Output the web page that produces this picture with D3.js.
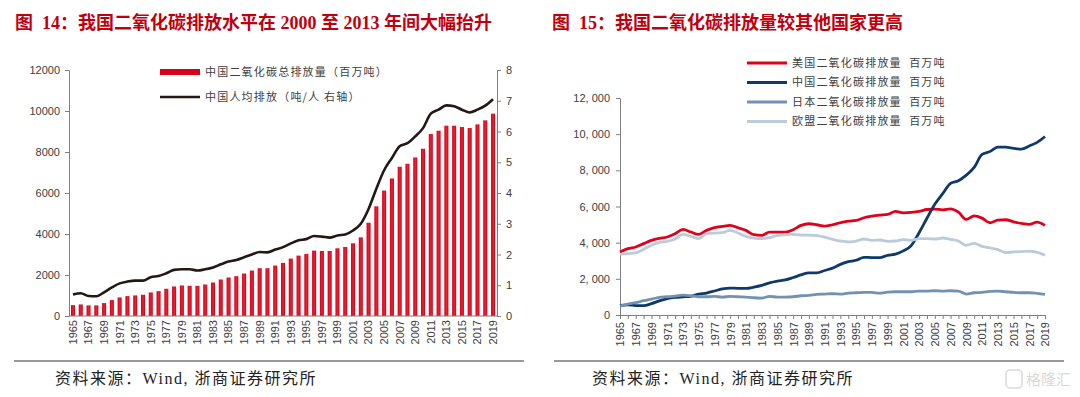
<!DOCTYPE html>
<html>
<head>
<meta charset="utf-8">
<script src="https://cdn.jsdelivr.net/npm/d3@7.9.0/dist/d3.min.js"></script>
<style>
  html, body { margin: 0; padding: 0; background: #fff; }
  svg { display: block; }
  text { white-space: pre; }
  .axis text { font-family: "Liberation Sans", Arial, sans-serif; font-size: 11px; fill: #404040; }
  .axis path, .axis line { stroke: #7f7f7f; }
  .legend text { font-family: "Noto Sans CJK SC", sans-serif; font-size: 11px; letter-spacing: 1.2px; fill: #404040; }
  .title { font-family: "Liberation Serif", "Noto Sans CJK SC", serif; font-weight: bold; font-size: 18px; fill: #c0000e; }
  .source { font-family: "Liberation Serif", "Noto Sans CJK SC", serif; font-size: 16px; letter-spacing: 1.5px; fill: #222; }
</style>
</head>
<body>
<svg id="chart" width="1080" height="397"></svg>
<script>
// ---------- Data ----------
const years = d3.range(1965, 2020);

// China total CO2 emissions, million tonnes
const chinaTotal = [
  530, 565, 518, 518, 630, 777, 906, 971, 1004, 1036,
  1150, 1214, 1328, 1441, 1490, 1473, 1473, 1538, 1635, 1781,
  1878, 1943, 2072, 2218, 2331, 2331, 2461, 2590, 2801, 2947,
  3028, 3189, 3173, 3173, 3303, 3368, 3546, 3837, 4550, 5350,
  6120, 6710, 7280, 7427, 7736, 8160, 8876, 9039, 9283, 9283,
  9218, 9169, 9348, 9544, 9870
];

// China per-capita emissions, tonnes / person (right axis)
const chinaPerCapita = [
  0.70, 0.74, 0.65, 0.64, 0.77, 0.93, 1.06, 1.12, 1.15, 1.15,
  1.26, 1.30, 1.39, 1.50, 1.52, 1.52, 1.48, 1.52, 1.58, 1.68,
  1.77, 1.82, 1.91, 2.00, 2.08, 2.07, 2.16, 2.24, 2.36, 2.46,
  2.50, 2.60, 2.58, 2.55, 2.62, 2.65, 2.78, 3.00, 3.48, 4.14,
  4.74, 5.14, 5.52, 5.62, 5.84, 6.11, 6.58, 6.71, 6.85, 6.82,
  6.71, 6.62, 6.71, 6.84, 7.05
];

const usTotal = [
  3487, 3670, 3762, 3945, 4129, 4239, 4312, 4496, 4734, 4588,
  4459, 4679, 4826, 4900, 4955, 4826, 4679, 4441, 4404, 4588,
  4588, 4588, 4716, 4955, 5046, 4991, 4918, 4991, 5101, 5193,
  5230, 5377, 5468, 5523, 5560, 5725, 5652, 5670, 5725, 5835,
  5854, 5817, 5872, 5689, 5285, 5487, 5358, 5101, 5248, 5266,
  5156, 5065, 5010, 5138, 4955
];

const japanTotal = [
  495, 605, 679, 789, 881, 972, 1009, 1046, 1101, 1064,
  1009, 1009, 1028, 991, 1028, 1009, 991, 954, 936, 1028,
  991, 991, 1009, 1064, 1083, 1138, 1156, 1174, 1156, 1211,
  1230, 1248, 1248, 1211, 1266, 1285, 1285, 1285, 1321, 1321,
  1340, 1321, 1340, 1321, 1156, 1230, 1248, 1303, 1321, 1285,
  1248, 1230, 1230, 1193, 1138
];

const euTotal = [
  3358, 3395, 3432, 3633, 3854, 4019, 4074, 4202, 4459, 4349,
  4220, 4496, 4532, 4551, 4679, 4532, 4349, 4257, 4220, 4276,
  4404, 4441, 4459, 4422, 4422, 4386, 4312, 4184, 4092, 4037,
  4092, 4202, 4129, 4147, 4074, 4092, 4165, 4129, 4220, 4220,
  4202, 4257, 4184, 4092, 3854, 3964, 3798, 3707, 3615, 3450,
  3487, 3505, 3524, 3468, 3303
];

const leftTicks = [0, 2000, 4000, 6000, 8000, 10000, 12000];
const rightTicks = [0, 1, 2, 3, 4, 5, 6, 7, 8];
const labelYears = years.filter((y) => (y - 1965) % 2 === 0);

const leftLegend = ["中国二氧化碳总排放量（百万吨）", "中国人均排放（吨/人 右轴）"];
const rightSeries = [
  { name: "美国二氧化碳排放量  百万吨", values: usTotal, color: "#e1001c" },
  { name: "中国二氧化碳排放量  百万吨", values: chinaTotal, color: "#0e3a6b" },
  { name: "日本二氧化碳排放量  百万吨", values: japanTotal, color: "#7391b0" },
  { name: "欧盟二氧化碳排放量  百万吨", values: euTotal, color: "#bccbdc" }
];

const svg = d3.select("#chart");

// ---------- Titles ----------
svg.append("text").attr("class", "title").attr("x", 15).attr("y", 29)
  .text("图  14：我国二氧化碳排放水平在 2000 至 2013 年间大幅抬升");
svg.append("text").attr("class", "title").attr("x", 552).attr("y", 29)
  .text("图  15：我国二氧化碳排放量较其他国家更高");

// ---------- Left chart: bars + per capita line ----------
const xL = d3.scaleBand().domain(years).range([69, 497]).paddingInner(0.48).paddingOuter(0.25);
const yL = d3.scaleLinear().domain([0, 12000]).range([316, 70]);
const yR = d3.scaleLinear().domain([0, 8]).range([316, 70]);

const grad = svg.append("defs").append("linearGradient").attr("id", "barGrad")
  .attr("x1", "0").attr("x2", "1").attr("y1", "0").attr("y2", "0");
grad.append("stop").attr("offset", "0").attr("stop-color", "#d4001a");
grad.append("stop").attr("offset", "0.55").attr("stop-color", "#ee2030");
grad.append("stop").attr("offset", "1").attr("stop-color", "#c40015");

svg.append("g").selectAll("rect")
  .data(years)
  .join("rect")
  .attr("x", (d) => xL(d))
  .attr("width", xL.bandwidth())
  .attr("y", (d, i) => yL(chinaTotal[i]))
  .attr("height", (d, i) => yL(0) - yL(chinaTotal[i]))
  .attr("fill", "url(#barGrad)");

svg.append("path")
  .datum(chinaPerCapita)
  .attr("fill", "none")
  .attr("stroke", "#231815")
  .attr("stroke-width", 2.6)
  .attr("stroke-linejoin", "round")
  .attr("d", d3.line()
    .x((d, i) => xL(years[i]) + xL.bandwidth() / 2)
    .y((d) => yR(d))
    .curve(d3.curveMonotoneX));

svg.append("g").attr("class", "axis")
  .attr("transform", "translate(69,0)")
  .call(d3.axisLeft(yL).tickValues(leftTicks).tickFormat(d3.format("d"))
    .tickSize(4).tickSizeOuter(0).tickPadding(5));

svg.append("g").attr("class", "axis")
  .attr("transform", "translate(497,0)")
  .call(d3.axisRight(yR).tickValues(rightTicks).tickSize(4).tickSizeOuter(0).tickPadding(5));

const xAxisL = svg.append("g").attr("class", "axis")
  .attr("transform", "translate(0,316)")
  .call(d3.axisBottom(xL).tickValues(labelYears).tickSize(0).tickSizeOuter(0));
xAxisL.select(".domain").attr("d", "M69,0H497");
xAxisL.selectAll("text")
  .attr("transform", "rotate(-90)")
  .attr("text-anchor", "end")
  .attr("x", -4).attr("y", 0).attr("dy", "0.35em");

// left legend
const legL = svg.append("g").attr("class", "legend");
legL.append("rect").attr("x", 160).attr("y", 69).attr("width", 40).attr("height", 6).attr("fill", "#d9001b");
legL.append("line").attr("x1", 160).attr("x2", 200).attr("y1", 97).attr("y2", 97)
  .attr("stroke", "#231815").attr("stroke-width", 2.6);
legL.selectAll("text").data(leftLegend).join("text")
  .attr("x", 205).attr("y", (d, i) => 72 + i * 25).attr("dy", "0.35em")
  .text((d) => d);

// ---------- Right chart: country lines ----------
const xC = d3.scaleLinear().domain([1965, 2019]).range([620, 1045]);
const yC = d3.scaleLinear().domain([0, 12000]).range([315, 98]);

const commaFmt = (d) => d3.format(",")(d).replace(",", ", ");

svg.append("g").attr("class", "axis")
  .attr("transform", "translate(620,0)")
  .call(d3.axisLeft(yC).tickValues(leftTicks).tickFormat(commaFmt).tickSize(4).tickSizeOuter(0).tickPadding(6));

const xAxisC = svg.append("g").attr("class", "axis")
  .attr("transform", "translate(0,315)")
  .call(d3.axisBottom(xC).tickValues(years)
    .tickFormat((d) => ((d - 1965) % 2 === 0 ? d : ""))
    .tickSize(4).tickSizeOuter(0));
xAxisC.selectAll("text")
  .attr("transform", "rotate(-90)")
  .attr("text-anchor", "end")
  .attr("x", -7).attr("y", 0).attr("dy", "0.35em");

const lineC = d3.line()
  .x((d, i) => xC(years[i]))
  .y((d) => yC(d))
  .curve(d3.curveMonotoneX);

svg.append("g").selectAll("path")
  .data(rightSeries)
  .join("path")
  .attr("fill", "none")
  .attr("stroke", (d) => d.color)
  .attr("stroke-width", 2.8)
  .attr("stroke-linejoin", "round")
  .attr("d", (d) => lineC(d.values));

const legR = svg.append("g").attr("class", "legend");
legR.selectAll("line").data(rightSeries).join("line")
  .attr("x1", 747).attr("x2", 787)
  .attr("y1", (d, i) => 63 + i * 19.5).attr("y2", (d, i) => 63 + i * 19.5)
  .attr("stroke", (d) => d.color).attr("stroke-width", 3);
legR.selectAll("text").data(rightSeries).join("text")
  .attr("x", 792).attr("y", (d, i) => 63 + i * 19.5).attr("dy", "0.35em")
  .text((d) => d.name);

// ---------- Source lines ----------
[[14, 524, 55], [554, 1064, 592]].forEach(([x1, x2, tx]) => {
  svg.append("line").attr("x1", x1).attr("x2", x2).attr("y1", 361).attr("y2", 361)
    .attr("stroke", "#333").attr("stroke-width", 1);
  svg.append("text").attr("class", "source").attr("x", tx).attr("y", 384)
    .text("资料来源：Wind, 浙商证券研究所");
});

// watermark
const wm = svg.append("g").attr("opacity", 0.55);
wm.append("rect").attr("x", 1006).attr("y", 370).attr("width", 16).attr("height", 18).attr("rx", 4)
  .attr("fill", "none").attr("stroke", "#bbb").attr("stroke-width", 1.5);
wm.append("text").attr("x", 1026).attr("y", 385)
  .attr("font-family", "Noto Sans CJK SC").attr("font-size", 15).attr("fill", "#bbb")
  .text("格隆汇");
</script>
</body>
</html>
